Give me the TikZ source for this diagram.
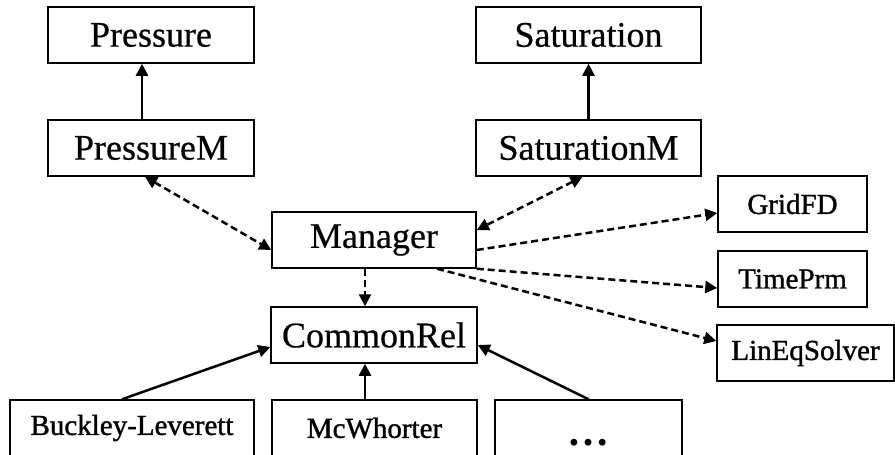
\documentclass[tikz,border=0pt]{standalone}
\usepackage{fontspec}
\setmainfont{Liberation Serif}
\newfontfamily\heavyserif[FakeBold=1.2]{Liberation Serif}
\newfontfamily\midserif[FakeBold=0.5]{Liberation Serif}
\usetikzlibrary{arrows.meta}
\begin{document}
\begin{tikzpicture}[x=1pt,y=-1pt,
  box/.style={draw, line width=1.5pt, minimum height=56pt, inner sep=0pt, anchor=center},
  big/.style={font=\midserif\fontsize{36}{40}\selectfont},
  small/.style={font=\heavyserif\fontsize{29}{32}\selectfont},
  solidarrow/.style={line width=2.5pt, -{Triangle[length=12pt,width=12pt]}},
  dasharrow/.style={line width=2.5pt, dash pattern=on 7pt off 4pt, -{Triangle[length=12pt,width=12pt]}},
  dashboth/.style={line width=2.5pt, dash pattern=on 7pt off 4pt, {Triangle[length=12pt,width=12pt]}-{Triangle[length=12pt,width=12pt]}}
]
\path[fill=white, use as bounding box] (0,0) rectangle (895,455);

\node[box, big, minimum width=206pt] (pres) at (151,35) {Pressure};
\node[box, big, minimum width=206pt] (presm) at (151,148) {PressureM};
\node[box, big, minimum width=225pt] (sat) at (588.5,35) {Saturation};
\node[box, big, minimum width=225pt] (satm) at (588.5,148) {SaturationM};
\node[box, big, minimum width=204pt] (man) at (374,240) {Manager};
\node[box, big, minimum width=206pt] (com) at (374,335) {CommonRel};
\node[box, small, minimum width=149pt] (grid) at (792.5,204) {GridFD};
\node[box, small, minimum width=149pt] (time) at (792.5,279) {TimePrm};
\node[box, small, minimum width=177pt] (lin) at (805.5,353) {LinEqSolver};
\node[box, small, minimum width=244pt] (buck) at (132,428) {Buckley-Leverett};
\node[box, small, minimum width=205pt] (mcw) at (374.5,428) {McWhorter};
\node[box, minimum width=187pt] (dots) at (588.5,428) {};
\node[anchor=base, inner sep=0pt, font=\fontsize{42}{46}\selectfont\bfseries] (dotstext) at ([yshift=-17pt]dots.center) {…};

\draw[solidarrow] ([xshift=-9pt]presm.north) -- ([xshift=-9pt]pres.south);
\draw[solidarrow] (satm.north) -- (sat.south);

\draw[dashboth] ([xshift=-6pt]presm.south) -- ([yshift=-10pt]man.west);
\draw[dashboth] ([xshift=-6pt]satm.south) -- ([yshift=10pt]man.east);
\draw[dasharrow] ([yshift=-10pt]man.east) -- ([yshift=-9pt]grid.west);
\draw[dasharrow] (man.south east) -- ([yshift=-9pt]time.west);
\draw[dasharrow] ([xshift=63pt]man.south) -- ([yshift=12pt]lin.west);
\draw[dasharrow] ([xshift=-9pt]man.south) -- ([xshift=-9pt]com.north);

\draw[solidarrow] ([xshift=-10pt]buck.north) -- ([yshift=-12pt]com.west);
\draw[solidarrow] ([xshift=-9.5pt]mcw.north) -- ([xshift=-9pt]com.south);
\draw[solidarrow] (dots.north) -- ([yshift=-10pt]com.east);
\end{tikzpicture}
\end{document}
